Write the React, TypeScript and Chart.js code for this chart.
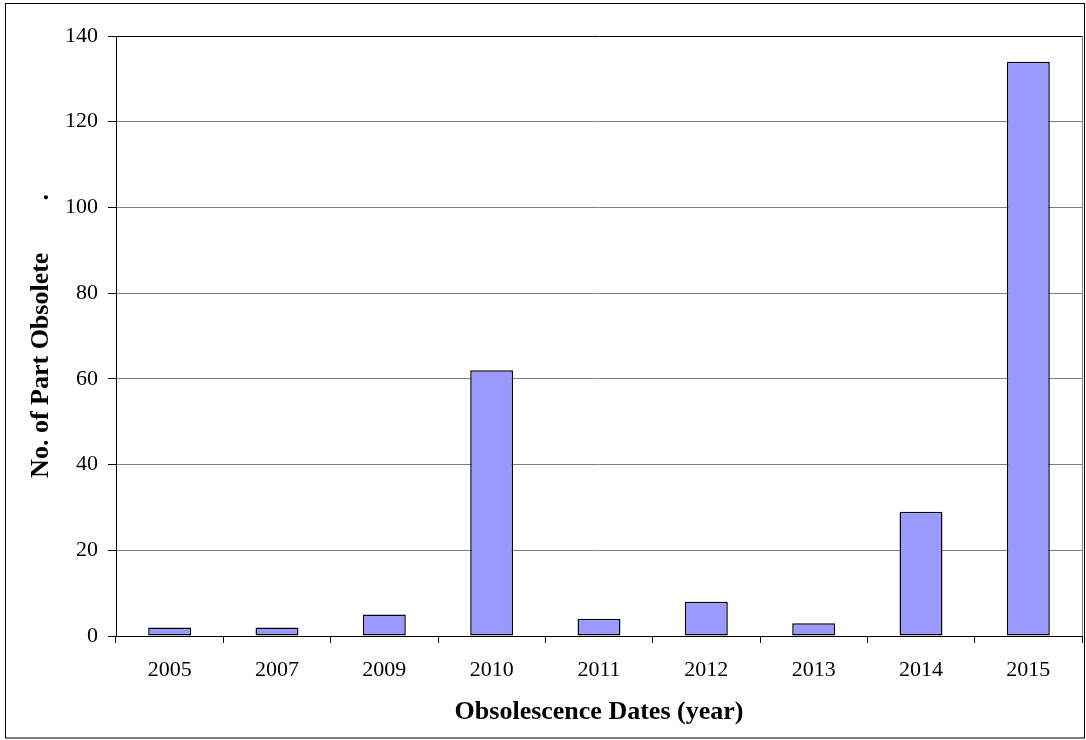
import React, { useEffect, useRef } from "react";
import { Chart, registerables } from "chart.js";

Chart.register(...registerables);

const categories: string[] = ["2005", "2007", "2009", "2010", "2011", "2012", "2013", "2014", "2015"];
const partsObsolete: number[] = [2, 2, 5, 62, 4, 8, 3, 29, 134];
const yTicks: number[] = [0, 20, 40, 60, 80, 100, 120, 140];
const xTitle = "Obsolescence Dates (year)";
const yTitle = "No. of Part Obsolete" + "\u00A0".repeat(8) + ".";

const FONT = "'Liberation Serif', 'Times New Roman', serif";

const framePlugin = {
  id: "frame",
  afterDraw(chart: any) {
    const { ctx, chartArea } = chart;
    ctx.save();
    ctx.strokeStyle = "#808080";
    ctx.lineWidth = 1;
    ctx.beginPath();
    ctx.moveTo(Math.round(chartArea.right) + 0.5, chartArea.top);
    ctx.lineTo(Math.round(chartArea.right) + 0.5, chartArea.bottom);
    ctx.stroke();
    ctx.strokeStyle = "#000";
    ctx.strokeRect(5.5, 3.5, 1079, 734.5);
    ctx.restore();
  },
};

export default function App() {
  const ref = useRef<HTMLCanvasElement | null>(null);
  useEffect(() => {
    if (!ref.current) return;
    const chart = new Chart(ref.current, {
      type: "bar",
      data: {
        labels: categories,
        datasets: [
          {
            data: partsObsolete,
            backgroundColor: "#9999FF",
            borderColor: "#000",
            borderWidth: 1.5,
            borderSkipped: false,
            categoryPercentage: 1,
            barPercentage: 0.4,
          },
        ],
      },
      options: {
        animation: false,
        responsive: false,
        maintainAspectRatio: false,
        layout: { padding: { left: 0, top: 36, right: 4, bottom: 0 } },
        plugins: { legend: { display: false }, tooltip: { enabled: false } },
        scales: {
          x: {
            offset: true,
            grid: {
              display: true,
              offset: true,
              drawOnChartArea: false,
              drawTicks: true,
              tickLength: 7,
              tickColor: "#000",
            },
            border: { display: true, color: "#000", width: 1 },
            ticks: {
              color: "#000",
              padding: 14,
              maxRotation: 0,
              font: { family: FONT, size: 22 },
            },
            title: {
              display: true,
              text: xTitle,
              color: "#000",
              padding: { top: 0, bottom: 12 },
              font: { family: FONT, size: 26, weight: "bold" },
            },
            afterFit(scale: any) {
              scale.height = 104;
            },
          },
          y: {
            min: 0,
            max: 140,
            afterBuildTicks(scale: any) {
              scale.ticks = yTicks.map((v) => ({ value: v }));
            },
            grid: {
              color: (c: any) => (c.tick && c.tick.value === 140 ? "#000" : "#808080"),
              tickColor: "#000",
              tickLength: 8,
              drawTicks: true,
            },
            border: { display: true, color: "#000", width: 1 },
            ticks: {
              color: "#000",
              padding: 10,
              font: { family: FONT, size: 22 },
            },
            title: {
              display: true,
              text: yTitle,
              color: "#000",
              padding: { top: 26, bottom: 0 },
              font: { family: FONT, size: 26, weight: "bold" },
            },
            afterFit(scale: any) {
              scale.width = 116;
            },
          },
        },
      },
      plugins: [framePlugin],
    });
    return () => chart.destroy();
  }, []);
  return (
    <div style={{ position: "absolute", left: 0, top: 0, width: 1086, height: 740, background: "#fff" }}>
      <canvas ref={ref} width={1086} height={740} style={{ display: "block", width: 1086, height: 740 }} />
    </div>
  );
}
